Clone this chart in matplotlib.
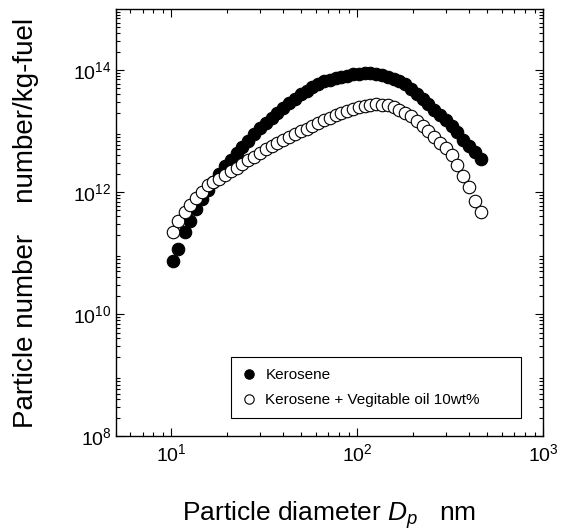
import matplotlib
matplotlib.use("Agg")
import matplotlib.pyplot as plt

plt.rcParams["font.family"] = ["Liberation Sans", "DejaVu Sans"]
plt.rcParams["mathtext.fontset"] = "custom"
plt.rcParams["mathtext.rm"] = "Liberation Sans"
plt.rcParams["mathtext.it"] = "Liberation Sans:italic"
plt.rcParams["mathtext.bf"] = "Liberation Sans:bold"

# particle diameter channels (nm)
diameters = [10.2, 10.9, 11.8, 12.6, 13.6, 14.6, 15.7, 16.8, 18.1, 19.5,
             20.9, 22.5, 24.1, 25.9, 27.9, 30.0, 32.2, 34.6, 37.2, 40.0,
             42.9, 46.1, 49.6, 53.3, 57.3, 61.5, 66.1, 71.0, 76.4, 82.0,
             88.2, 94.7, 101.8, 109.4, 117.6, 126.3, 135.7, 145.9, 156.8, 168.5,
             181.1, 194.6, 209.1, 224.7, 241.4, 259.4, 278.8, 299.6, 322.0, 346.0,
             371.8, 399.6, 429.4, 461.4]

kerosene = [7.4e10, 1.17e11, 2.24e11, 3.31e11, 5.25e11, 7.76e11, 1.10e12, 1.48e12, 2.0e12, 2.63e12,
            3.39e12, 4.37e12, 5.5e12, 6.9e12, 8.9e12, 1.12e13, 1.35e13, 1.62e13, 2.0e13, 2.4e13,
            2.9e13, 3.4e13, 4.0e13, 4.6e13, 5.2e13, 5.9e13, 6.5e13, 6.9e13, 7.4e13, 7.8e13,
            8.1e13, 8.5e13, 8.7e13, 8.9e13, 8.9e13, 8.7e13, 8.3e13, 7.8e13, 7.2e13, 6.5e13,
            5.8e13, 4.8e13, 4.0e13, 3.3e13, 2.75e13, 2.24e13, 1.86e13, 1.51e13, 1.2e13, 9.5e12,
            7.2e12, 5.75e12, 4.6e12, 3.55e12]

kerosene_veg = [2.24e11, 3.31e11, 4.68e11, 6.17e11, 8.13e11, 1.02e12, 1.29e12, 1.48e12, 1.66e12, 1.91e12,
                2.19e12, 2.51e12, 2.88e12, 3.31e12, 3.8e12, 4.37e12, 5.0e12, 5.6e12, 6.3e12, 7.1e12,
                7.9e12, 8.9e12, 1.0e13, 1.1e13, 1.23e13, 1.35e13, 1.51e13, 1.66e13, 1.86e13, 2.0e13,
                2.14e13, 2.29e13, 2.45e13, 2.57e13, 2.69e13, 2.75e13, 2.69e13, 2.63e13, 2.45e13, 2.24e13,
                2.0e13, 1.74e13, 1.48e13, 1.23e13, 1.0e13, 7.9e12, 6.3e12, 5.25e12, 4.0e12, 2.82e12,
                1.86e12, 1.2e12, 7.2e11, 4.68e11]

labels = ["Kerosene", "Kerosene + Vegitable oil 10wt%"]

fig = plt.figure(figsize=(5.61, 5.30), dpi=100)
ax = fig.add_axes([0.206, 0.177, 0.762, 0.806])

ax.plot(diameters, kerosene, linestyle="none", marker="o", markersize=9,
        markerfacecolor="black", markeredgecolor="black", markeredgewidth=0.8,
        label=labels[0], zorder=3)
ax.plot(diameters, kerosene_veg, linestyle="none", marker="o", markersize=9,
        markerfacecolor="white", markeredgecolor="black", markeredgewidth=0.8,
        label=labels[1], zorder=4)

ax.set_xscale("log")
ax.set_yscale("log")
ax.set_xlim(5, 1000)
ax.set_ylim(1e8, 1e15)
ax.set_yticks([1e8, 1e10, 1e12, 1e14])

ax.tick_params(which="both", direction="in", top=True, right=True, width=0.8)
ax.tick_params(which="major", length=5.5, labelsize=14)
ax.tick_params(which="minor", length=3)
ax.tick_params(axis="x", which="major", pad=5)
ax.tick_params(axis="y", which="major", pad=3)
for spine in ax.spines.values():
    spine.set_linewidth(1.0)

ax.set_xlabel(r"Particle diameter $D_p$   nm", fontsize=19)
ax.xaxis.set_label_coords(0.5, -0.148)
ax.set_ylabel("Particle number    number/kg-fuel", fontsize=20)
ax.yaxis.set_label_coords(-0.18, 0.5)

leg = ax.legend(loc="lower left", bbox_to_anchor=(0.271, 0.0415, 0.678, 0.1425),
                mode="expand", borderaxespad=0, fontsize=11, markerscale=0.75,
                handlelength=0.9, handletextpad=0.6, labelspacing=0.75,
                borderpad=0.72, fancybox=False, framealpha=1)
leg.get_frame().set_edgecolor("black")
leg.get_frame().set_linewidth(0.8)

fig.savefig("out.png", dpi=100)
